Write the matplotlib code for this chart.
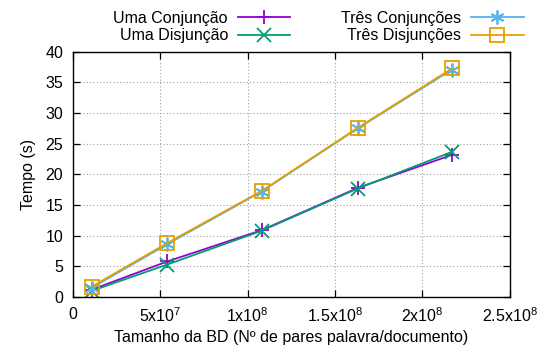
import matplotlib
matplotlib.use("Agg")
import matplotlib.pyplot as plt
from matplotlib.ticker import FuncFormatter, MultipleLocator

plt.rcParams["font.family"] = ["Liberation Sans", "DejaVu Sans"]
plt.rcParams["mathtext.fontset"] = "custom"
plt.rcParams["mathtext.rm"] = "Liberation Sans"
plt.rcParams["mathtext.it"] = "Liberation Sans"

# database size (word/document pairs)
tamanho = [1.08e7, 5.4e7, 1.08e8, 1.63e8, 2.17e8]

uma_conj = [1.2, 5.8, 10.9, 17.8, 23.2]
uma_disj = [1.0, 5.3, 10.8, 17.7, 23.7]
tres_conj = [1.5, 8.6, 17.2, 27.5, 37.1]
tres_disj = [1.7, 8.8, 17.3, 27.6, 37.3]

series = [
    ("Uma Conjunção", uma_conj, "#9400D3", "+"),
    ("Uma Disjunção", uma_disj, "#009E73", "x"),
    ("Três Conjunções", tres_conj, "#56B4E9", (6, 2, 0)),
    ("Três Disjunções", tres_disj, "#E69F00", "s"),
]

fig = plt.figure(figsize=(5.4, 3.6), dpi=100)
ax = fig.add_axes([0.135, 0.175, 0.809, 0.681])

fs = 11.5
handles = []
for label, ys, color, marker in series:
    h, = ax.plot(tamanho, ys, color=color, lw=1.3, marker=marker, markersize=10,
                 markerfacecolor="none", markeredgecolor=color, markeredgewidth=1.3,
                 label=label)
    handles.append(h)

ax.set_xlim(0, 2.5e8)
ax.set_ylim(0, 40)
ax.xaxis.set_major_locator(MultipleLocator(5e7))
ax.yaxis.set_major_locator(MultipleLocator(5))


def fmt_x(v, pos):
    if v == 0:
        return "0"
    exp = 7 if v < 1e8 else 8
    mant = v / 10 ** exp
    return rf"{mant:g}x10$^{{{exp}}}$"


ax.xaxis.set_major_formatter(FuncFormatter(fmt_x))
ax.tick_params(direction="in", top=True, right=True, length=5, labelsize=fs,
               pad=7, width=0.9)
ax.grid(True, ls=(0, (1, 2)), color="#a0a0a0", lw=0.8)
for s in ax.spines.values():
    s.set_linewidth(1.0)

ax.set_xlabel("Tamanho da BD (Nº de pares palavra/documento)", fontsize=fs, labelpad=3)
ax.set_ylabel("Tempo (s)", fontsize=fs, labelpad=7)

fig.legend(handles=handles, loc="upper center", bbox_to_anchor=(0.59, 1.01),
           ncol=2, frameon=False, markerfirst=False, fontsize=fs,
           handlelength=3.3, columnspacing=3.2, labelspacing=0.15,
           handletextpad=0.6)

fig.savefig("out.png", dpi=100)
